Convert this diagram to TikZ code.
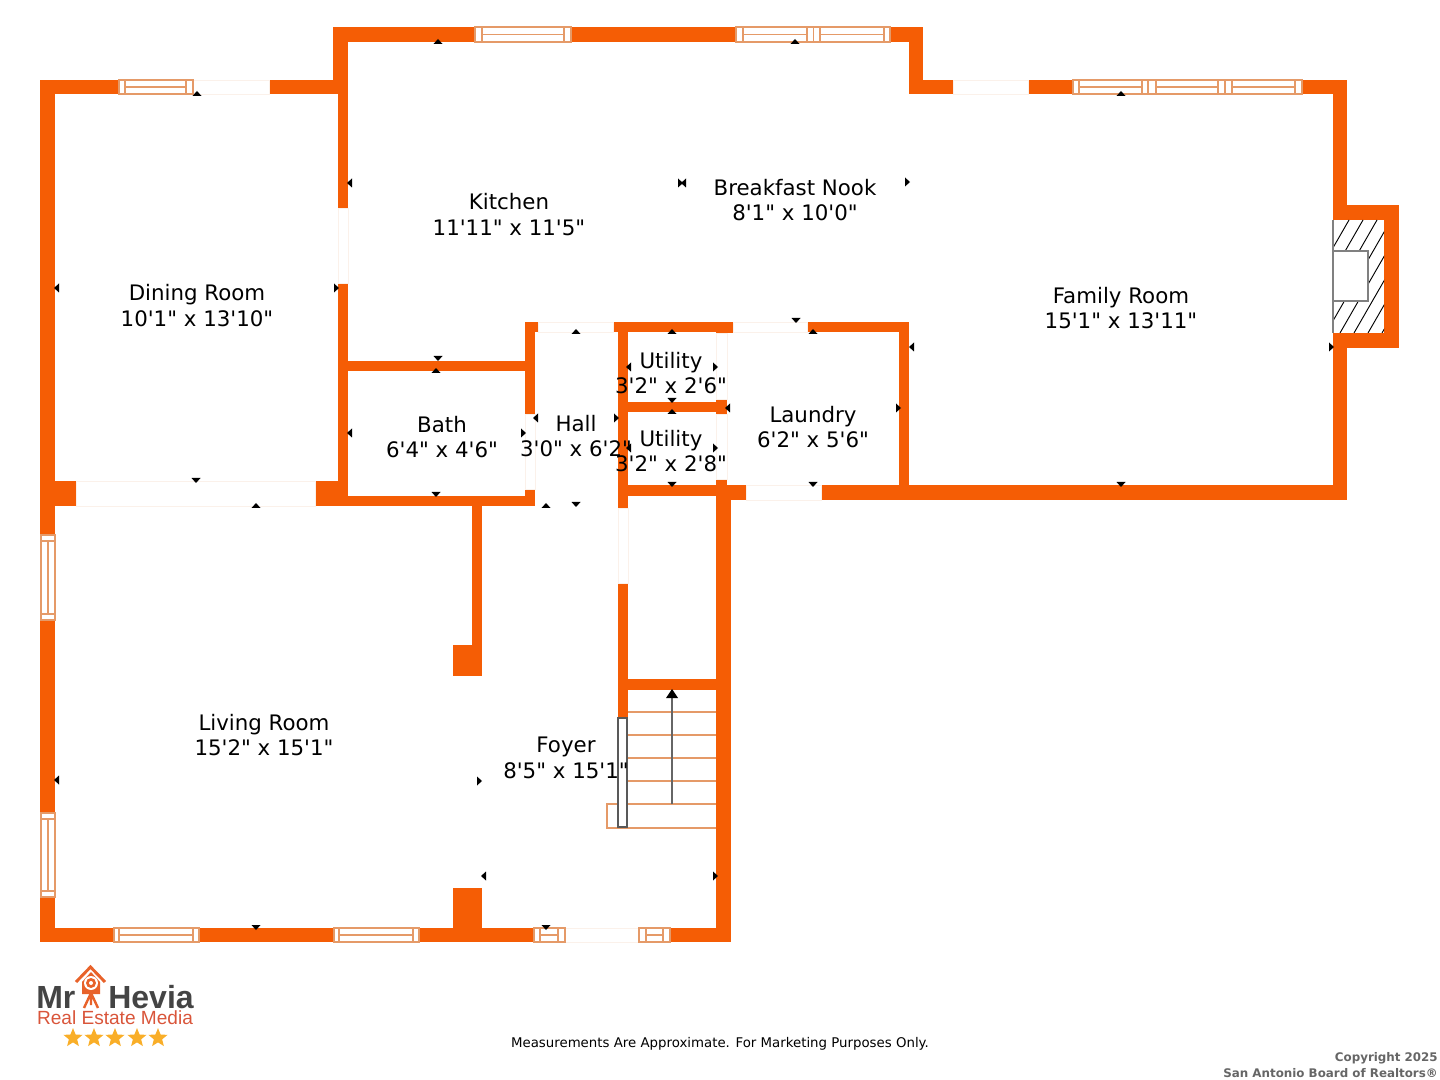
\documentclass[tikz,border=0pt]{standalone}
\usepackage{fontspec}
\setmainfont{DejaVu Sans}[Ligatures=TeXOff]
\newfontfamily\logofont{Liberation Sans}
\usetikzlibrary{shapes.geometric}

\definecolor{wallcol}{HTML}{F55D05}
\definecolor{framecol}{HTML}{E59A68}
\definecolor{gapcol}{HTML}{FBF1EA}
\definecolor{logodark}{HTML}{444444}
\definecolor{logored}{HTML}{D9553A}
\definecolor{logohouse}{HTML}{E8622A}
\definecolor{logogold}{HTML}{F9AE28}

\tikzset{
    wall/.style={fill=wallcol},
    gapline/.style={draw=gapcol, fill=white, line width=.6pt},
    frameline/.style={draw=framecol, line width=.8pt},
    roomlabel/.style={font=\fontsize{16}{19}\selectfont, align=center, inner sep=0pt},
    flag/.style={fill=black},
    star5/.style={star, star points=5, star point ratio=2.3, fill=logogold, inner sep=0pt, minimum size=15pt}
}

% pane strip of a window, lying or standing
\newcommand{\panesH}[3]{\foreach \pa/\pb in {#3} {
    \draw[frameline] (\pa,#1) rectangle (\pb,#2);
    \draw[frameline] (\pa,{(#1+#2)/2}) -- (\pb,{(#1+#2)/2});}}
\newcommand{\panesV}[3]{\foreach \pa/\pb in {#3} {
    \draw[frameline] (#1,\pa) rectangle (#2,\pb);
    \draw[frameline] ({(#1+#2)/2},\pa) -- ({(#1+#2)/2},\pb);}}

\begin{document}
\begin{tikzpicture}[x=.75pt, y=-.75pt]
    \useasboundingbox (0,0) rectangle (1440,1080);

    % walls
    \foreach \xa/\ya/\xb/\yb in {
        333/27/923/42, 333/27/348/94, 338/94/348/208, 338/283/348/506,
        40/80/338/94, 40/80/55/942, 40/481/76/506, 315/481/348/506,
        348/496/535/506, 348/361/525/371, 525/322/535/414, 525/322/538/332,
        525/489/535/506, 613/322/733/332, 716/322/733/333,
        618/322/628/508, 628/402/716/412, 716/399/727/414,
        628/485/746/496, 716/479/727/496, 716/485/746/500, 716/485/731/942,
        618/583/628/718, 628/679/716/690,
        807/322/909/332, 899/322/909/500, 821/485/1347/500,
        909/27/923/94, 909/80/1347/94, 1333/80/1347/220,
        1333/205/1399/220, 1384/205/1399/348, 1333/333/1399/348, 1333/333/1347/500,
        472/506/482/676, 453/645/482/676, 453/888/482/942, 40/928/731/942}
        \fill[wall] (\xa,\ya) rectangle (\xb,\yb);

    % door openings
    \foreach \xa/\ya/\xb/\yb in {
        193/80/269/94, 953/80/1028/94, 338/208/348/283, 76/481/315/506,
        525/414/535/489, 538/322/613/332, 733/322/807/332, 716/333/727/399,
        716/414/727/479, 746/485/821/500, 618/508/628/583, 565/928/640/942}
        \path[gapline] (\xa,\ya) rectangle (\xb,\yb);

    % windows
    \foreach \xa/\xb/\ya/\yb in {119/193/80/94, 475/571/27/42, 736/890/27/42, 1073/1302/80/94,
        114/199/928/942, 334/419/928/942, 534/565/928/942, 639/670/928/942}
        \path[fill=white, frameline] (\xa,\ya) rectangle (\xb,\yb);
    \panesH{80}{94}{125/186, 1079/1142, 1156/1218, 1232/1295}
    \panesH{27}{42}{482/564, 743/807, 820/884}
    \panesH{928}{942}{119/193, 339/413, 540/558, 646/663}
    \foreach \wx in {1148,1225}
        \draw[frameline] (\wx,80) -- (\wx,94);
    \draw[frameline] (813.5,27) -- (813.5,42);
    \foreach \ya/\yb in {535/620, 813/897}
        \path[fill=white, frameline] (41,\ya) rectangle (55,\yb);
    \panesV{41}{55}{541/614, 819/891}

    % fireplace
    \fill[white] (1333,220) rectangle (1384,333);
    \begin{scope}
        \clip (1333,220) rectangle (1384,333);
        \foreach \k in {0,...,7}
            \draw[line width=.7pt] (1284+\k*14,333) -- (1349+\k*14,220);
    \end{scope}
    \draw[gray, line width=1pt] (1333,333) -- (1333,220);
    \path[fill=white, draw=gray, line width=1pt] (1333,251) rectangle (1368,301);

    % stairs
    \foreach \yt in {712,735,758,781,804}
        \draw[frameline] (628,\yt) -- (716,\yt);
    \draw[frameline] (716,828) -- (607,828) -- (607,804) -- (628,804);
    \path[fill=white, draw=gray!70!black, line width=1pt] (618,718) rectangle (627,827);
    \coordinate (stairfoot) at (672,804);
    \coordinate (stairtop) at (672,698);
    \draw[gray!80!black, line width=1pt] (stairfoot) -- (stairtop);
    \fill[black] (672,689) -- (678,698) -- (666,698) -- cycle;

    % measuring flags
    \foreach \fx/\fy in {197/96, 438/44, 795/44, 1121/96, 436/373, 576/334, 672/334, 813/334, 672/414, 546/508, 256/508}
        \fill[flag] (\fx-4.5,\fy) -- (\fx+4.5,\fy) -- (\fx,\fy-5) -- cycle;
    \foreach \fx/\fy in {438/357, 196/479, 436/493, 796/319, 672/399, 672/483, 813/483, 1121/483, 576/503, 256/926, 546/926}
        \fill[flag] (\fx-4.5,\fy-1) -- (\fx+4.5,\fy-1) -- (\fx,\fy+4) -- cycle;
    \foreach \fx/\fy in {352/183, 59/288, 59/780, 352/433, 538/418, 631/367, 631/448, 730/408, 914/347, 486/876, 686/183}
        \fill[flag] (\fx,\fy-4.5) -- (\fx,\fy+4.5) -- (\fx-5,\fy) -- cycle;
    \foreach \fx/\fy in {334/288, 905/182, 1329/347, 896/408, 521/433, 614/418, 713/367, 713/448, 477/781, 713/876, 678/183}
        \fill[flag] (\fx,\fy-4.5) -- (\fx,\fy+4.5) -- (\fx+5,\fy) -- cycle;

    % rooms
    \node[roomlabel] (kitchen)   at (509,214.5) {Kitchen\\11'11" x 11'5"};
    \node[roomlabel] (breakfast) at (795,200) {Breakfast Nook\\8'1" x 10'0"};
    \node[roomlabel] (family)    at (1121,308) {Family Room\\15'1" x 13'11"};
    \node[roomlabel] (dining)    at (197,305.5) {Dining Room\\10'1" x 13'10"};
    \node[roomlabel] (bath)      at (442,437) {Bath\\6'4" x 4'6"};
    \node[roomlabel] (hall)      at (576,436) {Hall\\3'0" x 6'2"};
    \node[roomlabel] (utilitya)  at (671,373) {Utility\\3'2" x 2'6"};
    \node[roomlabel] (utilityb)  at (671,451) {Utility\\3'2" x 2'8"};
    \node[roomlabel] (laundry)   at (813,427) {Laundry\\6'2" x 5'6"};
    \node[roomlabel] (living)    at (264,735) {Living Room\\15'2" x 15'1"};
    \node[roomlabel] (foyer)     at (566,758) {Foyer\\8'5" x 15'1"};

    \node[font=\fontsize{10}{12}\selectfont, inner sep=0pt] (disclaimer) at (720,1043.5)
        {Measurements Are Approximate. For Marketing Purposes Only.};
    \node[font=\fontsize{8.9}{12}\bfseries\selectfont, align=right, anchor=south east, inner sep=0pt,
          text=black!60] (copyright) at (1438,1078) {Copyright 2025\\San Antonio Board of Realtors®};

    % logo
    \draw[logohouse, line width=2.2pt] (76,982) -- (90.5,967) -- (105,982);
    \fill[logohouse] (82,982) -- (91,972) -- (100,982) -- (100,994) -- (82,994) -- cycle;
    \fill[white] (91,983) circle (7);
    \fill[logohouse] (91,983) circle (5);
    \fill[white] (91,983) circle (2);
    \draw[logohouse, line width=1.8pt] (91,993) -- (84,1008) (91,993) -- (91,1005) (91,993) -- (98,1008);
    \node[font=\logofont\bfseries\fontsize{24}{24}\selectfont, text=logodark, anchor=base west, inner sep=0pt] (logomr) at (36,1008) {Mr};
    \node[font=\logofont\bfseries\fontsize{24}{24}\selectfont, text=logodark, anchor=base east, inner sep=0pt] (logohevia) at (194,1008) {Hevia};
    \node[font=\logofont\fontsize{14.3}{14.3}\selectfont, text=logored, anchor=base, inner sep=0pt] (logomedia) at (115,1024.5) {Real Estate Media};
    \foreach \sx [count=\si] in {73,94,115,137,158}
        \node[star5] (logostar\si) at (\sx,1038) {};
\end{tikzpicture}
\end{document}
